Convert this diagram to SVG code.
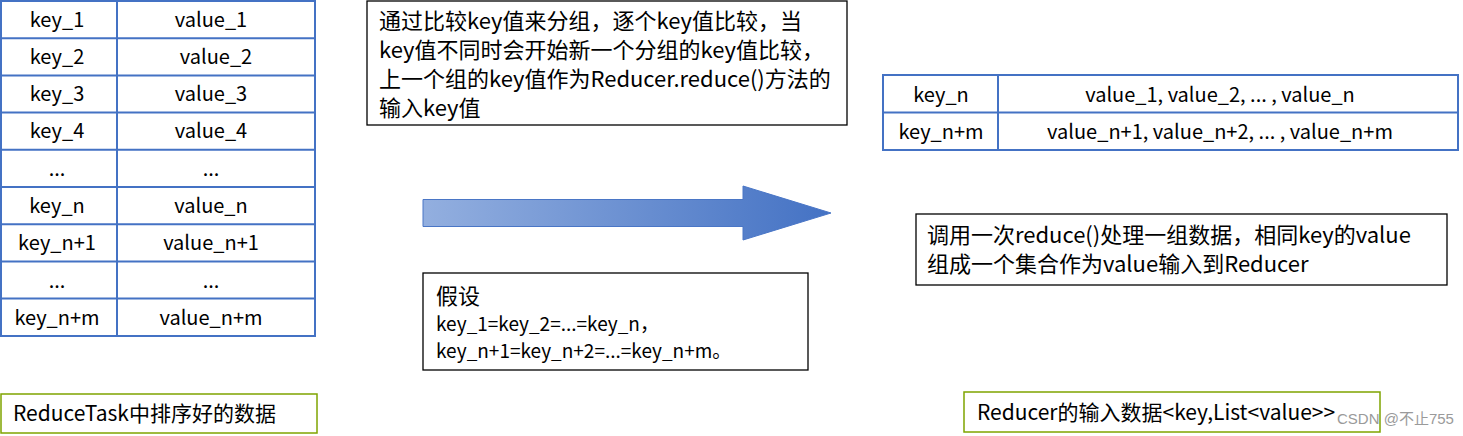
<svg xmlns="http://www.w3.org/2000/svg" width="1463" height="436" viewBox="0 0 1463 436">
<style>
text{font-family:"Noto Sans CJK SC","Noto Sans",sans-serif;fill:#000}
.cell{fill:#fff;stroke:#4472C4;stroke-width:2}
.box{fill:#fff;stroke:#000;stroke-width:1.3}
.gbox{fill:#fff;stroke:#7FA400;stroke-width:1.5}
.t{font-size:20px;text-anchor:middle}
.big{font-size:22px}
.mid{font-size:22px}
.hd{font-size:22px}
.sm{font-size:19px}
.lbl{font-size:21px}
.wm{font-size:15px;fill:#9a9a9a;font-family:"Liberation Sans","Noto Sans CJK SC",sans-serif}
</style>
<defs>
<linearGradient id="ag" x1="0" y1="0" x2="1" y2="0">
<stop offset="0" stop-color="#93AFDF"/>
<stop offset="1" stop-color="#4472C4"/>
</linearGradient>
</defs>
<rect width="1463" height="436" fill="#fff"/>
<g id="sorted-table">
<rect class="cell" x="1" y="1" width="314" height="335"/>
<g stroke="#4472C4" stroke-width="2">
<line x1="117" y1="1" x2="117" y2="336"/>
<line x1="1" y1="38.2" x2="315" y2="38.2"/>
<line x1="1" y1="75.4" x2="315" y2="75.4"/>
<line x1="1" y1="112.6" x2="315" y2="112.6"/>
<line x1="1" y1="149.8" x2="315" y2="149.8"/>
<line x1="1" y1="187" x2="315" y2="187"/>
<line x1="1" y1="224.2" x2="315" y2="224.2"/>
<line x1="1" y1="261.4" x2="315" y2="261.4"/>
<line x1="1" y1="298.6" x2="315" y2="298.6"/>
</g>
<text class="t" x="57" y="27">key_1</text><text class="t" x="211" y="27">value_1</text>
<text class="t" x="57" y="64">key_2</text><text class="t" x="216" y="64">value_2</text>
<text class="t" x="57" y="101">key_3</text><text class="t" x="211" y="101">value_3</text>
<text class="t" x="57" y="138">key_4</text><text class="t" x="211" y="138">value_4</text>
<text class="t" x="57" y="176">...</text><text class="t" x="211" y="176">...</text>
<text class="t" x="57" y="213">key_n</text><text class="t" x="211" y="213">value_n</text>
<text class="t" x="57" y="250">key_n+1</text><text class="t" x="211" y="250">value_n+1</text>
<text class="t" x="57" y="288">...</text><text class="t" x="211" y="288">...</text>
<text class="t" x="57" y="325">key_n+m</text><text class="t" x="211" y="325">value_n+m</text>
</g>
<g id="compare-note">
<rect class="box" x="367" y="1" width="480" height="124"/>
<text class="big" x="379" y="29">通过比较key值来分组，逐个key值比较，当</text>
<text class="big" x="379" y="58">key值不同时会开始新一个分组的key值比较，</text>
<text class="big" x="379" y="87">上一个组的key值作为Reducer.reduce()方法的</text>
<text class="big" x="379" y="116">输入key值</text>
</g>
<g id="connectors">
<path d="M423,199.5 H743 V186 L831,213 L743,240 V226.5 H423 Z" fill="url(#ag)" stroke="#4A76C6" stroke-width="1"/>
</g>
<g id="assumption">
<rect class="box" x="423" y="273" width="385" height="97"/>
<text class="hd" x="436" y="304">假设</text>
<text class="sm" x="436" y="331">key_1=key_2=...=key_n，</text>
<text class="sm" x="436" y="358">key_n+1=key_n+2=...=key_n+m。</text>
</g>
<g id="grouped-table">
<rect class="cell" x="883" y="75" width="575" height="75"/>
<g stroke="#4472C4" stroke-width="2">
<line x1="998" y1="75" x2="998" y2="150"/>
<line x1="883" y1="112.5" x2="1458" y2="112.5"/>
</g>
<text class="t" x="941" y="102">key_n</text>
<text class="t" x="1220" y="102">value_1, value_2, ... , value_n</text>
<text class="t" x="941" y="139">key_n+m</text>
<text class="t" x="1220" y="139">value_n+1, value_n+2, ... , value_n+m</text>
</g>
<g id="reduce-note">
<rect class="box" x="916" y="214" width="531" height="71"/>
<text class="mid" x="927" y="243">调用一次reduce()处理一组数据，相同key的value</text>
<text class="mid" x="927" y="272">组成一个集合作为value输入到Reducer</text>
</g>
<g id="label-sorted">
<rect class="gbox" x="1" y="394" width="316" height="39"/>
<text class="lbl" x="13" y="421">ReduceTask中排序好的数据</text>
</g>
<g id="label-reducer-input">
<rect class="gbox" x="964" y="392" width="416" height="40"/>
<text class="lbl" x="977" y="420">Reducer的输入数据&lt;key,List&lt;value&gt;&gt;</text>
</g>
<text class="wm" x="1337" y="424">CSDN @不止755</text>
</svg>
